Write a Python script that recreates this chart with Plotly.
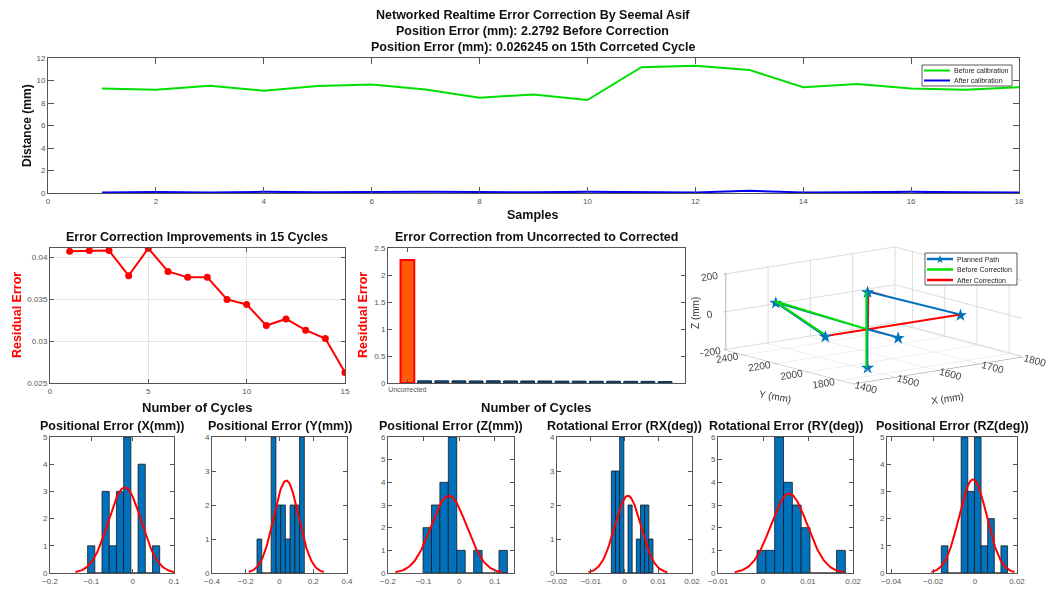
import numpy as np
import plotly.graph_objects as go

W, H = 1048, 589
FONT = "Liberation Sans, Arial, Helvetica, sans-serif"
TICK_FONT = dict(family=FONT, size=8, color="#555555")


def px_x(p):
    return p / W


def px_y(p):
    return 1 - p / H


# ---------------- distance per sample (top panel) ----------------
samples = list(range(1, 19))
dist_before = [9.29, 9.17, 9.53, 9.09, 9.50, 9.65, 9.20, 8.47, 8.76,
               8.26, 11.18, 11.30, 10.94, 9.41, 9.70, 9.29, 9.17, 9.41]
dist_after = [0.05, 0.09, 0.04, 0.10, 0.07, 0.10, 0.12, 0.09, 0.06,
              0.10, 0.06, 0.05, 0.20, 0.05, 0.06, 0.10, 0.06, 0.04]

# ---------------- residual error per correction cycle ----------------
cycles = list(range(1, 16))
residual_error = [0.04071, 0.04079, 0.04079, 0.03780, 0.04106, 0.03831, 0.03760,
                  0.03760, 0.03496, 0.03437, 0.03185, 0.03264, 0.03130, 0.03031,
                  0.026245]
uncorrected_error = 2.2792

# ---------------- 3D paths (mm) ----------------
planned_x = [1510, 1510, 1510, 1730, 1410, 1510, 1510, 1510]
planned_y = [1730, 1920, 1920, 1920, 1920, 2490, 1920, 1920]
planned_z = [0, 0, 200, 0, 0, 15, 0, -200]

star_x = [1510, 1510, 1730, 1410, 1510, 1510]
star_y = [1730, 1920, 1920, 1920, 2490, 1920]
star_z = [0, 200, 0, 0, 15, -200]

before_x = [1507, 1507, None, 1410, 1505, 1510]
before_y = [1918, 1918, None, 1925, 2480, 1920]
before_z = [-200, 200, None, 8, 25, 0]

after_x = [1410, 1730, None, 1510, 1512, 1513, 1555]
after_y = [1920, 1920, None, 1730, 1922, 1922, 1920]
after_z = [0, 0, None, 0, 0, 200, 160]

# ---------------- histograms of residual errors ----------------
hist_titles = ["Positional Error (X(mm))", "Positional Error (Y(mm))",
               "Positional Error (Z(mm))", "Rotational Error (RX(deg))",
               "Rotational Error (RY(deg))", "Positional Error (RZ(deg))"]
hist_counts = [
    [1, 0, 3, 1, 3, 5, 0, 4, 0, 1],
    [1, 0, 0, 4, 2, 2, 1, 2, 2, 4],
    [2, 3, 4, 6, 1, 0, 1, 0, 0, 1],
    [3, 3, 4, 0, 2, 0, 1, 2, 2, 1],
    [1, 1, 6, 4, 3, 2, 0, 0, 0, 1],
    [1, 0, 0, 5, 3, 5, 1, 2, 0, 1],
]
hist_lo = [-0.109, -0.1333, -0.1016, -0.0039, -0.00133, -0.0161]
hist_hi = [0.0654, 0.147, 0.1355, 0.00844, 0.0183, 0.0155]
fit_mu = [-0.019, 0.040, -0.029, 0.001, 0.0058, -0.001]
fit_sigma = [0.0398, 0.074, 0.050, 0.0039, 0.00403, 0.0066]

# axis layout (pixels) for the histogram row
hist_left = [50, 212, 388, 557, 718, 887]
hist_right = [174, 347, 514, 692, 853, 1017]
hist_xrange = [[-0.2, 0.1], [-0.4, 0.4], [-0.2, 0.154], [-0.02, 0.02],
               [-0.01, 0.02], [-0.042, 0.02]]
hist_dtick = [0.1, 0.2, 0.1, 0.01, 0.01, 0.02]
hist_ymax = [5, 4, 6, 4, 6, 5]

fig = go.Figure()

base_axis = dict(showline=True, linecolor="#555555", linewidth=1, mirror="ticks",
                 ticks="inside", ticklen=4, tickcolor="#555555", tickfont=TICK_FONT,
                 showgrid=False, zeroline=False, automargin=False)

layout_axes = {}

# ---- top panel
fig.add_trace(go.Scatter(x=samples, y=dist_before, mode="lines",
                         line=dict(color="#00e000", width=2), xaxis="x", yaxis="y"))
fig.add_trace(go.Scatter(x=samples, y=dist_after, mode="lines",
                         line=dict(color="#0000ee", width=2), xaxis="x", yaxis="y"))
layout_axes["xaxis"] = dict(base_axis, domain=[px_x(48), px_x(1019)], range=[0, 18],
                            dtick=2, ticklen=6, anchor="y")
layout_axes["yaxis"] = dict(base_axis, domain=[px_y(193), px_y(58)], range=[0, 12],
                            dtick=2, ticklen=6, anchor="x")

# ---- residual error per cycle
fig.add_trace(go.Scatter(x=cycles, y=residual_error, mode="lines+markers",
                         line=dict(color="#ff0000", width=2),
                         marker=dict(color="#ff0000", size=7),
                         xaxis="x2", yaxis="y2"))
layout_axes["xaxis2"] = dict(base_axis, domain=[px_x(50), px_x(345)], range=[0, 15],
                             tickvals=[0, 5, 10, 15], showgrid=True, gridcolor="#e4e4e4",
                             anchor="y2")
layout_axes["yaxis2"] = dict(base_axis, domain=[px_y(383), px_y(248)],
                             range=[0.025, 0.0411],
                             tickvals=[0.025, 0.03, 0.035, 0.04], showgrid=True,
                             gridcolor="#e4e4e4", anchor="x2")

# ---- uncorrected vs corrected bars
bar_vals = [uncorrected_error] + residual_error
bar_x = list(range(len(bar_vals)))
bar_fill = ["#ff5a0a"] + ["#1a4f7c"] * len(residual_error)
bar_edge = ["#ff0000"] + ["#0d2840"] * len(residual_error)
bar_edge_w = [2] + [1] * len(residual_error)
fig.add_trace(go.Bar(x=bar_x, y=bar_vals, width=0.8,
                     marker=dict(color=bar_fill, line=dict(color=bar_edge, width=bar_edge_w)),
                     xaxis="x3", yaxis="y3"))
layout_axes["xaxis3"] = dict(base_axis, domain=[px_x(388), px_x(685)], range=[-1.13, 16.16],
                             tickvals=[0], ticktext=["Uncorrected"],
                             tickfont=dict(family=FONT, size=7, color="#555555"),
                             anchor="y3")
layout_axes["yaxis3"] = dict(base_axis, domain=[px_y(383), px_y(248)], range=[0, 2.5],
                             dtick=0.5, anchor="x3")

# ---- 3D paths
fig.add_trace(go.Scatter3d(x=planned_x, y=planned_y, z=planned_z, mode="lines",
                           line=dict(color="#0072BD", width=4), scene="scene"))
fig.add_trace(go.Scatter3d(x=before_x, y=before_y, z=before_z, mode="lines",
                           connectgaps=False,
                           line=dict(color="#00e000", width=4), scene="scene"))
fig.add_trace(go.Scatter3d(x=after_x, y=after_y, z=after_z, mode="lines",
                           connectgaps=False,
                           line=dict(color="#ff0000", width=4), scene="scene"))
fig.add_trace(go.Scatter3d(x=star_x, y=star_y, z=star_z, mode="text",
                           text=["★"] * len(star_x), textposition="middle center",
                           textfont=dict(family="DejaVu Sans", size=17, color="#0072BD"),
                           scene="scene"))

ax3d = dict(showbackground=False, gridcolor="#dcdcdc", showline=True, linecolor="#888888",
            zeroline=False, ticks="outside", ticklen=3, tickcolor="#888888",
            tickfont=dict(family=FONT, size=11, color="#444444"), showspikes=False,
            title=dict(text=""))
scene = dict(
    domain=dict(x=[px_x(700), px_x(1048)], y=[px_y(406), px_y(224)]),
    xaxis=dict(ax3d, range=[1400, 1800], dtick=100),
    yaxis=dict(ax3d, range=[1720, 2510], tickvals=[1800, 2000, 2200, 2400]),
    zaxis=dict(ax3d, range=[-205, 205], tickvals=[-200, 0, 200]),
    aspectmode="manual", aspectratio=dict(x=2.35, y=2.28, z=0.87),
    camera=dict(projection=dict(type="orthographic"),
                eye=dict(x=-0.6 * 1.9, y=-0.773 * 1.9, z=0.205 * 1.9),
                center=dict(x=0, y=0, z=0), up=dict(x=0, y=0, z=1)),
)

# ---- histograms with normal fits
for i in range(6):
    k = i + 4
    xa, ya = f"x{k}", f"y{k}"
    counts = hist_counts[i]
    nb = len(counts)
    bw = (hist_hi[i] - hist_lo[i]) / nb
    centers = hist_lo[i] + bw * (np.arange(nb) + 0.5)
    fig.add_trace(go.Bar(x=centers, y=counts, width=bw,
                         marker=dict(color="#0072BD", line=dict(color="#1a1a1a", width=0.8)),
                         xaxis=xa, yaxis=ya))
    mu, sd = fit_mu[i], fit_sigma[i]
    xs = np.linspace(mu - 3 * sd, mu + 3 * sd, 120)
    ys = sum(counts) * bw * np.exp(-0.5 * ((xs - mu) / sd) ** 2) / (sd * np.sqrt(2 * np.pi))
    fig.add_trace(go.Scatter(x=xs, y=ys, mode="lines", line=dict(color="#ff0000", width=2),
                             xaxis=xa, yaxis=ya))
    layout_axes[f"xaxis{k}"] = dict(base_axis, domain=[px_x(hist_left[i]), px_x(hist_right[i])],
                                    range=hist_xrange[i], dtick=hist_dtick[i], tick0=0,
                                    anchor=ya)
    layout_axes[f"yaxis{k}"] = dict(base_axis, domain=[px_y(573), px_y(437)],
                                    range=[0, hist_ymax[i]], dtick=1, anchor=xa)

# ---- text: titles and axis labels
annotations = []


def label(text, x, y, size=12, color="#111111", angle=0):
    annotations.append(dict(text=text, x=px_x(x), y=px_y(y), xref="paper", yref="paper",
                            showarrow=False, textangle=angle, xanchor="center",
                            yanchor="middle",
                            font=dict(family=FONT, size=size, color=color)))


label("<b>Networked Realtime Error Correction By Seemal Asif</b>", 533, 15, 12.5)
label("<b>Position Error (mm): 2.2792 Before Correction</b>", 533, 31, 12.5)
label("<b>Position Error (mm): 0.026245 on 15th Corrceted Cycle</b>", 533, 47, 12.5)
label("<b>Distance (mm)</b>", 27, 126, 12, angle=-90)
label("<b>Samples</b>", 533, 215, 12.5)

label("<b>Error Correction Improvements in 15 Cycles</b>", 197, 237, 12.5)
label("<b>Residual Error</b>", 17, 315, 12.5, color="#ff0000", angle=-90)
label("<b>Number of Cycles</b>", 197, 407, 13)

label("<b>Error Correction from Uncorrected to Corrected</b>", 536, 237, 12.5)
label("<b>Residual Error</b>", 363, 315, 12.5, color="#ff0000", angle=-90)
label("<b>Number of Cycles</b>", 536, 407, 13)

# 3D axis names
label("X (mm)", 947, 398, 10, color="#333333", angle=-8)
label("Y (mm)", 775, 396, 10, color="#333333", angle=10)
label("Z (mm)", 695, 313, 10, color="#333333", angle=-90)

for i in range(6):
    label(f"<b>{hist_titles[i]}</b>", (hist_left[i] + hist_right[i]) / 2, 426, 12.5)

# ---- legends (boxed keys)
shapes = []


def legend_box(x0, y0, x1, y1):
    shapes.append(dict(type="rect", xref="paper", yref="paper", x0=px_x(x0), x1=px_x(x1),
                       y0=px_y(y1), y1=px_y(y0), line=dict(color="#333333", width=0.8),
                       fillcolor="white", layer="above"))


def legend_item(xl0, xl1, y, color, text, width=2):
    shapes.append(dict(type="line", xref="paper", yref="paper", x0=px_x(xl0), x1=px_x(xl1),
                       y0=px_y(y), y1=px_y(y), line=dict(color=color, width=width),
                       layer="above"))
    annotations.append(dict(text=text, x=px_x(xl1 + 2), y=px_y(y), xref="paper",
                            yref="paper", showarrow=False, xanchor="left", yanchor="middle",
                            font=dict(family=FONT, size=7, color="#222222")))


legend_box(922, 65, 1012, 86)
legend_item(924, 950, 70.5, "#00e000", "Before calibration")
legend_item(924, 950, 80.5, "#0000ee", "After calibration")

legend_box(925, 253, 1017, 285)
legend_item(927, 953, 259, "#0072BD", "Planned Path", width=2.5)
legend_item(927, 953, 269.5, "#00e000", "Before Correction", width=2.5)
legend_item(927, 953, 280, "#ff0000", "After Correction", width=2.5)
annotations.append(dict(text="★", x=px_x(940), y=px_y(259), xref="paper", yref="paper",
                        showarrow=False, xanchor="center", yanchor="middle",
                        font=dict(family="DejaVu Sans", size=11, color="#0072BD")))

fig.update_layout(
    width=W, height=H, margin=dict(l=0, r=0, t=0, b=0, autoexpand=False),
    paper_bgcolor="white", plot_bgcolor="white", showlegend=False,
    scene=scene, annotations=annotations, shapes=shapes,
    font=dict(family=FONT), **layout_axes,
)

fig.write_html("out.html")
